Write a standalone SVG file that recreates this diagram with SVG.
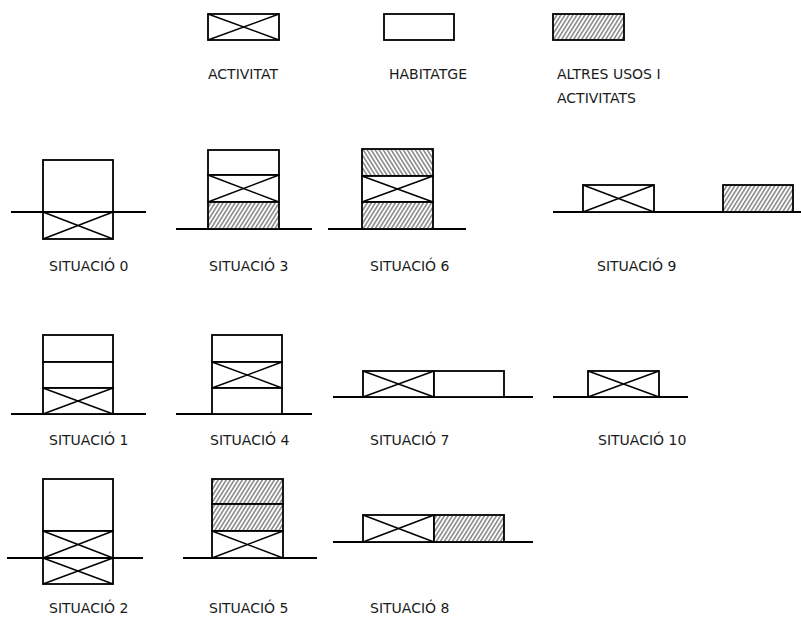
<svg xmlns="http://www.w3.org/2000/svg" width="801" height="619" viewBox="0 0 801 619">
<defs>
<pattern id="hf" width="3.4" height="10" patternUnits="userSpaceOnUse" patternTransform="rotate(32)">
<rect width="3.4" height="10" fill="#fff"/>
<line x1="0.8" y1="0" x2="0.8" y2="10" stroke="#555" stroke-width="1.1"/>
</pattern>
<pattern id="hb" width="3.4" height="10" patternUnits="userSpaceOnUse" patternTransform="rotate(-32)">
<rect width="3.4" height="10" fill="#fff"/>
<line x1="0.8" y1="0" x2="0.8" y2="10" stroke="#555" stroke-width="1.1"/>
</pattern>
</defs>
<style>
.box{fill:#fff;stroke:#000;stroke-width:1.8}
.alt{fill:url(#hf);stroke:#000;stroke-width:1.8}
.altb{fill:url(#hb);stroke:#000;stroke-width:1.8}
.x{stroke:#000;stroke-width:1.4;fill:none}
.g{stroke:#000;stroke-width:1.8}
text{font-family:"DejaVu Sans","Liberation Sans",sans-serif;font-size:14px;fill:#1a1a1a}
</style>
<g id="legend-activitat">
<rect class="box" x="208" y="14" width="71" height="26"/>
<path class="x" d="M208,14L279,40M208,40L279,14"/>
<text x="208" y="79">ACTIVITAT</text>
</g>
<g id="legend-habitatge">
<rect class="box" x="384" y="14" width="70" height="26"/>
<text x="389" y="79">HABITATGE</text>
</g>
<g id="legend-altres">
<rect class="alt" x="553" y="14" width="71" height="26"/>
<text x="557" y="79">ALTRES USOS I</text>
<text x="557" y="103">ACTIVITATS</text>
</g>
<g id="connectors">
<line class="g" x1="11" y1="212" x2="146" y2="212"/>
<line class="g" x1="176" y1="229" x2="312" y2="229"/>
<line class="g" x1="328" y1="229" x2="466" y2="229"/>
<line class="g" x1="553" y1="212" x2="801" y2="212"/>
<line class="g" x1="11" y1="414" x2="146" y2="414"/>
<line class="g" x1="176" y1="414" x2="312" y2="414"/>
<line class="g" x1="333" y1="397" x2="533" y2="397"/>
<line class="g" x1="553" y1="397" x2="688" y2="397"/>
<line class="g" x1="7" y1="558" x2="143" y2="558"/>
<line class="g" x1="183" y1="558" x2="317" y2="558"/>
<line class="g" x1="333" y1="542" x2="533" y2="542"/>
</g>
<g id="situacio-0">
<rect class="box" x="43" y="160" width="70" height="52"/>
<rect class="box" x="43" y="212" width="70" height="27"/>
<path class="x" d="M43,212L113,239M43,239L113,212"/>
<line class="g" x1="11" y1="212" x2="146" y2="212"/>
<text x="49" y="271">SITUACIÓ 0</text>
</g>
<g id="situacio-3">
<rect class="box" x="208" y="150" width="71" height="25"/>
<rect class="box" x="208" y="175" width="71" height="27"/>
<path class="x" d="M208,175L279,202M208,202L279,175"/>
<rect class="alt" x="208" y="202" width="71" height="27"/>
<text x="209" y="271">SITUACIÓ 3</text>
</g>
<g id="situacio-6">
<rect class="altb" x="362" y="149" width="71" height="27"/>
<rect class="box" x="362" y="176" width="71" height="26"/>
<path class="x" d="M362,176L433,202M362,202L433,176"/>
<rect class="alt" x="362" y="202" width="71" height="27"/>
<text x="370" y="271">SITUACIÓ 6</text>
</g>
<g id="situacio-9">
<rect class="box" x="583" y="185" width="71" height="27"/>
<path class="x" d="M583,185L654,212M583,212L654,185"/>
<rect class="alt" x="723" y="185" width="70" height="27"/>
<text x="597" y="271">SITUACIÓ 9</text>
</g>
<g id="situacio-1">
<rect class="box" x="43" y="335" width="70" height="27"/>
<rect class="box" x="43" y="362" width="70" height="26"/>
<rect class="box" x="43" y="388" width="70" height="26"/>
<path class="x" d="M43,388L113,414M43,414L113,388"/>
<text x="49" y="445">SITUACIÓ 1</text>
</g>
<g id="situacio-4">
<rect class="box" x="212" y="335" width="70" height="27"/>
<rect class="box" x="212" y="362" width="70" height="26"/>
<path class="x" d="M212,362L282,388M212,388L282,362"/>
<rect class="box" x="212" y="388" width="70" height="26"/>
<text x="210" y="445">SITUACIÓ 4</text>
</g>
<g id="situacio-7">
<rect class="box" x="363" y="371" width="71" height="26"/>
<path class="x" d="M363,371L434,397M363,397L434,371"/>
<rect class="box" x="434" y="371" width="70" height="26"/>
<text x="370" y="445">SITUACIÓ 7</text>
</g>
<g id="situacio-10">
<rect class="box" x="588" y="371" width="71" height="26"/>
<path class="x" d="M588,371L659,397M588,397L659,371"/>
<text x="598" y="445">SITUACIÓ 10</text>
</g>
<g id="situacio-2">
<rect class="box" x="43" y="479" width="70" height="52"/>
<rect class="box" x="43" y="531" width="70" height="27"/>
<path class="x" d="M43,531L113,558M43,558L113,531"/>
<rect class="box" x="43" y="558" width="70" height="26"/>
<path class="x" d="M43,558L113,584M43,584L113,558"/>
<line class="g" x1="7" y1="558" x2="143" y2="558"/>
<text x="49" y="613">SITUACIÓ 2</text>
</g>
<g id="situacio-5">
<rect class="alt" x="212" y="479" width="71" height="25"/>
<rect class="alt" x="212" y="504" width="71" height="27"/>
<rect class="box" x="212" y="531" width="71" height="27"/>
<path class="x" d="M212,531L283,558M212,558L283,531"/>
<text x="209" y="613">SITUACIÓ 5</text>
</g>
<g id="situacio-8">
<rect class="box" x="363" y="515" width="71" height="27"/>
<path class="x" d="M363,515L434,542M363,542L434,515"/>
<rect class="alt" x="434" y="515" width="70" height="27"/>
<text x="370" y="613">SITUACIÓ 8</text>
</g>
</svg>
